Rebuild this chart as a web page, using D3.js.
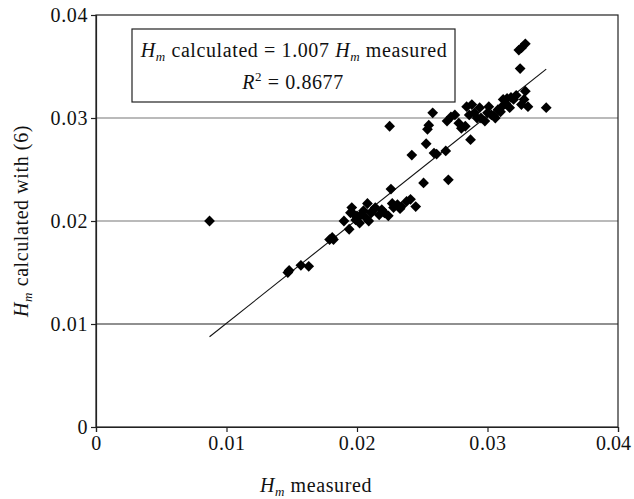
<!DOCTYPE html>
<html><head><meta charset="utf-8">
<script src="https://cdn.jsdelivr.net/npm/d3@7"></script>
<style>body{margin:0;background:#fff}svg{display:block}</style>
</head><body><svg id="c" width="634" height="499"></svg>
<script>
const measured = [0.0087,0.0147,0.0148,0.0157,0.0163,0.0179,0.0182,0.0181,0.0194,0.0190,0.0196,0.0195,0.0199,0.0200,0.0203,0.0208,0.0209,0.0211,0.0214,0.0217,0.0221,0.0224,0.0225,0.0226,0.0227,0.0228,0.0231,0.0234,0.0238,0.0241,0.0245,0.0242,0.0251,0.0253,0.0254,0.0255,0.0258,0.0259,0.0261,0.0268,0.0270,0.0269,0.0272,0.0275,0.0278,0.0283,0.0284,0.0286,0.0287,0.0288,0.0290,0.0294,0.0295,0.0298,0.0301,0.0303,0.0306,0.0308,0.0311,0.0314,0.0317,0.0320,0.0322,0.0325,0.0324,0.0326,0.0329,0.0329,0.0328,0.0331,0.0326,0.0345,0.0312,0.0315,0.0205,0.0202,0.0219,0.0207,0.0300,0.0305,0.0310,0.0318,0.0292,0.0280,0.0212,0.0198,0.0233];
const calculated = [0.0200,0.0150,0.0152,0.0157,0.0156,0.0182,0.0182,0.0184,0.0192,0.0200,0.0213,0.0208,0.0201,0.0205,0.0206,0.0217,0.0200,0.0208,0.0213,0.0206,0.0208,0.0205,0.0292,0.0231,0.0217,0.0213,0.0216,0.0214,0.0219,0.0221,0.0214,0.0264,0.0237,0.0275,0.0289,0.0293,0.0305,0.0266,0.0265,0.0268,0.0240,0.0297,0.0301,0.0303,0.0295,0.0292,0.0311,0.0303,0.0279,0.0313,0.0305,0.0310,0.0300,0.0297,0.0311,0.0303,0.0300,0.0308,0.0311,0.0314,0.0310,0.0318,0.0322,0.0348,0.0366,0.0368,0.0372,0.0326,0.0318,0.0311,0.0313,0.0310,0.0318,0.0319,0.0210,0.0198,0.0211,0.0203,0.0305,0.0302,0.0306,0.0320,0.0300,0.0290,0.0210,0.0206,0.0212];
const xTicks = [0,0.01,0.02,0.03,0.04];
const yTicks = [0,0.01,0.02,0.03,0.04];
const slope = 1.007;
const fmt = d => d===0 ? "0" : d3.format(".2f")(d);
const FF = "Liberation Serif";
const FS = 20, SUB = 13, LS = 0.6;

const svg = d3.select("#c");
const L=96,R=618,T=15,B=427;
const x = d3.scaleLinear().domain([0,0.04]).range([L,R]);
const y = d3.scaleLinear().domain([0,0.04]).range([B,T]);

svg.append("g").selectAll("line").data(yTicks.filter(d=>d>0&&d<0.04)).join("line")
  .attr("x1",L).attr("x2",R).attr("y1",d=>y(d)).attr("y2",d=>y(d))
  .attr("stroke",d=>d===0.01?"#222":"#777").attr("stroke-width",1.2);

svg.append("rect").attr("x",L).attr("y",T).attr("width",R-L).attr("height",B-T)
  .attr("fill","none").attr("stroke","#222").attr("stroke-width",1.2);

const xa = svg.append("g").attr("transform",`translate(0,${B})`)
  .call(d3.axisBottom(x).tickValues(xTicks).tickFormat(fmt).tickSize(5).tickPadding(4));
const ya = svg.append("g").attr("transform",`translate(${L},0)`)
  .call(d3.axisLeft(y).tickValues(yTicks).tickFormat(fmt).tickSize(5).tickPadding(3));
[xa,ya].forEach(a=>{a.attr("font-family",FF).attr("font-size",FS);
  a.select(".domain").attr("stroke","#222").attr("stroke-width",1.2);
  a.selectAll(".tick line").attr("stroke","#222").attr("stroke-width",1.2);
  a.selectAll("text").attr("font-family",FF).attr("font-size",FS).attr("letter-spacing",LS).attr("fill","#111");});
// keep the last x label inside the window
xa.selectAll(".tick text").filter(d=>d===0.04).attr("x",-5).attr("letter-spacing",0);

const xmin = d3.min(measured), xmax = d3.max(measured);
svg.append("line").attr("x1",x(xmin)).attr("y1",y(slope*xmin)).attr("x2",x(xmax)).attr("y2",y(slope*xmax))
  .attr("stroke","#111").attr("stroke-width",1.1);

const sym = d3.symbol().type(d3.symbolSquare).size(58);
svg.append("g").selectAll("path").data(measured.map((m,i)=>[m,calculated[i]])).join("path")
  .attr("d",sym).attr("transform",d=>`translate(${x(d[0])},${y(d[1])}) rotate(45)`).attr("fill","#000");

function txt(px,py){ return svg.append("text").attr("x",px).attr("y",py).attr("text-anchor","middle")
  .attr("font-family",FF).attr("font-size",FS).attr("letter-spacing",LS).attr("fill","#111"); }
function hm(t){
  t.append("tspan").attr("font-style","italic").text("H");
  t.append("tspan").attr("font-style","italic").attr("font-size",SUB).attr("dy",4).text("m");
}
svg.append("rect").attr("x",132).attr("y",29).attr("width",323).attr("height",73)
  .attr("fill","#fff").attr("stroke","#222").attr("stroke-width",1.2);
const t1 = txt(294,57);
hm(t1);
t1.append("tspan").attr("dy",-4).text(" calculated = 1.007 ");
hm(t1);
t1.append("tspan").attr("dy",-4).text(" measured");
const t2 = txt(293,89);
t2.append("tspan").attr("font-style","italic").text("R");
t2.append("tspan").attr("font-size",SUB).attr("dy",-8).text("2");
t2.append("tspan").attr("dy",8).text(" = 0.8677");

const xt = txt(316,492);
hm(xt);
xt.append("tspan").attr("dy",-4).text(" measured");
const yt = svg.append("text").attr("transform","translate(28,221) rotate(-90)").attr("text-anchor","middle")
  .attr("font-family",FF).attr("font-size",FS).attr("letter-spacing",LS).attr("fill","#111");
hm(yt);
yt.append("tspan").attr("dy",-4).text(" calculated with (6)");
</script></body></html>
